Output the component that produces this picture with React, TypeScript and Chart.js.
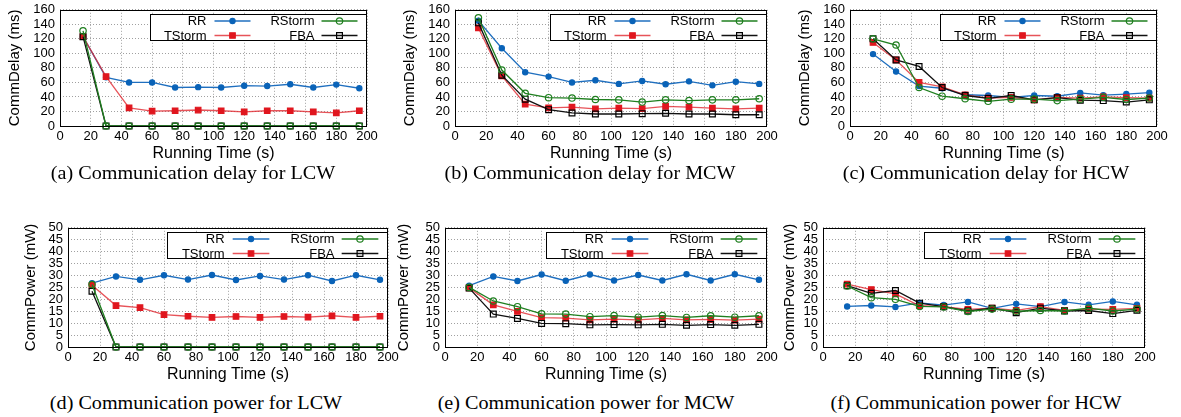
import React, { useEffect, useRef } from 'react';
import { Chart, registerables } from 'chart.js';

Chart.register(...registerables);

// ---------------- data ----------------
const TIMES = [15, 30, 45, 60, 75, 90, 105, 120, 135, 150, 165, 180, 195];
const SERIES_NAMES = ['RR', 'RStorm', 'TStorm', 'FBA'];
const X_MAX = 200;
const X_STEP = 20;
const DELAY_Y_MAX = 160;
const DELAY_Y_STEP = 20;
const POWER_Y_MAX = 50;
const POWER_Y_STEP = 5;
const X_TITLE = 'Running Time (s)';
const DELAY_TITLE = 'CommDelay (ms)';
const POWER_TITLE = 'CommPower (mW)';

// (a) LCW delay
const LCW_DELAY_RR = [123, 67, 60, 60, 53, 53.5, 53, 55.5, 55, 57.5, 53, 57, 52];
const LCW_DELAY_RSTORM = [131, 0, 0, 0, 0, 0, 0, 0, 0, 0, 0, 0, 0];
const LCW_DELAY_TSTORM = [123, 68, 25, 20.5, 21, 22, 21, 19.5, 21, 21, 19.5, 18, 21];
const LCW_DELAY_FBA = [123, 0, 0, 0, 0, 0, 0, 0, 0, 0, 0, 0, 0];

// (b) MCW delay
const MCW_DELAY_RR = [145, 107, 74, 68, 60, 63, 58, 62, 57.5, 61.5, 56, 61, 58];
const MCW_DELAY_RSTORM = [149, 77, 45, 39, 38.5, 36.5, 36, 33, 36, 35, 36, 36, 37.5];
const MCW_DELAY_TSTORM = [135, 69, 30, 25, 26, 23.5, 24.5, 24, 27, 26, 24.5, 23.5, 24.5];
const MCW_DELAY_FBA = [142, 70, 37, 22.5, 18, 16.5, 16.5, 17, 17.5, 16.5, 16.5, 15.5, 15.5];

// (c) HCW delay
const HCW_DELAY_RR = [99, 75, 55, 52, 43, 42, 39.5, 42, 41, 45.5, 42.5, 44, 46];
const HCW_DELAY_RSTORM = [120, 111.5, 53, 41, 37.5, 34, 37, 37, 35, 37, 39.5, 36.5, 38.5];
const HCW_DELAY_TSTORM = [115, 91, 60, 54, 43, 38.5, 39.5, 36, 39.5, 38.5, 40, 39, 38.5];
const HCW_DELAY_FBA = [120, 91, 82, 53, 42, 38, 42, 36, 39, 35.5, 35, 33, 36];

// (d) LCW power
const LCW_POWER_RR = [26.8, 29.6, 28.2, 30.1, 28.3, 30.2, 28.1, 29.8, 28.3, 30.1, 27.7, 30.1, 28.2];
const LCW_POWER_RSTORM = [26.2, 0, 0, 0, 0, 0, 0, 0, 0, 0, 0, 0, 0];
const LCW_POWER_TSTORM = [25.9, 17.4, 16.5, 13.6, 12.9, 12.4, 12.8, 12.4, 12.8, 12.5, 13.1, 12.4, 12.9];
const LCW_POWER_FBA = [23.4, 0, 0, 0, 0, 0, 0, 0, 0, 0, 0, 0, 0];

// (e) MCW power
const MCW_POWER_RR = [25.7, 29.6, 27.7, 30.4, 27.8, 30.4, 27.9, 30.2, 27.9, 30.5, 27.9, 30.5, 28.2];
const MCW_POWER_RSTORM = [25, 19.3, 16.9, 13.9, 13.8, 12.7, 13.2, 12.5, 13.2, 12.4, 13.1, 12.5, 13.1];
const MCW_POWER_TSTORM = [24.8, 17.7, 14.9, 12.3, 12.1, 11.4, 11.7, 11.4, 12, 11.4, 11.6, 11.3, 11.7];
const MCW_POWER_FBA = [24.7, 13.8, 12, 9.9, 9.8, 9.3, 9.4, 9.3, 9.5, 9.1, 9.4, 9.1, 9.5];

// (f) HCW power
const HCW_POWER_RR = [17, 17.4, 16.8, 18.5, 17.6, 18.9, 16.2, 18.1, 16.9, 18.9, 17.7, 19.1, 17.7];
const HCW_POWER_RSTORM = [25.6, 20.7, 20, 17, 16.8, 14.9, 15.9, 15, 15.3, 15.1, 16.3, 15.1, 15.9];
const HCW_POWER_TSTORM = [26.4, 24.1, 22.3, 17.3, 16.9, 15.8, 16.3, 15.4, 16.9, 15.4, 15.9, 15.8, 16.2];
const HCW_POWER_FBA = [25.7, 22.5, 23.7, 18.4, 16.9, 15.1, 16.3, 14.4, 16.3, 15.1, 15.3, 14, 15.4];

const CAPTIONS = [
  '(a) Communication delay for LCW',
  '(b) Communication delay for MCW',
  '(c) Communication delay for HCW',
  '(d) Communication power for LCW',
  '(e) Communication power for MCW',
  '(f) Communication power for HCW',
];

// ---------------- styles ----------------
const SANS = '"Liberation Sans", Arial, Helvetica, sans-serif';
const SERIF = '"Liberation Serif", "Times New Roman", serif';

type SeriesStyle = {
  line: string;
  point: string;
  fill: string;
  shape: 'circle' | 'rect';
  radius: number;
  order: number;
};

const STYLES: Record<string, SeriesStyle> = {
  RR: { line: '#1f6fbf', point: '#0a63b8', fill: '#0a63b8', shape: 'circle', radius: 2.6, order: 3 },
  RStorm: { line: '#1f7f1f', point: '#1f7f1f', fill: 'rgba(0,0,0,0)', shape: 'circle', radius: 3.2, order: 0 },
  TStorm: { line: 'rgba(225,40,48,0.8)', point: '#e0161e', fill: '#e0161e', shape: 'rect', radius: 3.9, order: 2 },
  FBA: { line: '#111111', point: '#000000', fill: 'rgba(0,0,0,0)', shape: 'rect', radius: 4.1, order: 1 },
};

type Spec = {
  L: number; R: number; T: number; B: number;
  yTitleX: number; xTitleY: number;
  yMax: number; yStep: number; yTitle: string;
  series: number[][];
  caption: string; capX: number; capY: number;
  legendW: number;
};

const PANELS: Spec[] = [
  { L: 60, R: 367, T: 7, B: 126, yTitleX: 15, xTitleY: 153, yMax: DELAY_Y_MAX, yStep: DELAY_Y_STEP, yTitle: DELAY_TITLE,
    series: [LCW_DELAY_RR, LCW_DELAY_RSTORM, LCW_DELAY_TSTORM, LCW_DELAY_FBA], caption: CAPTIONS[0], capX: 193, capY: 173, legendW: 216 },
  { L: 455, R: 767, T: 7, B: 126, yTitleX: 410, xTitleY: 153, yMax: DELAY_Y_MAX, yStep: DELAY_Y_STEP, yTitle: DELAY_TITLE,
    series: [MCW_DELAY_RR, MCW_DELAY_RSTORM, MCW_DELAY_TSTORM, MCW_DELAY_FBA], caption: CAPTIONS[1], capX: 590, capY: 173, legendW: 216 },
  { L: 850, R: 1157, T: 7, B: 126, yTitleX: 805, xTitleY: 153, yMax: DELAY_Y_MAX, yStep: DELAY_Y_STEP, yTitle: DELAY_TITLE,
    series: [HCW_DELAY_RR, HCW_DELAY_RSTORM, HCW_DELAY_TSTORM, HCW_DELAY_FBA], caption: CAPTIONS[2], capX: 986, capY: 173, legendW: 216 },
  { L: 68, R: 388, T: 225, B: 347, yTitleX: 31, xTitleY: 374, yMax: POWER_Y_MAX, yStep: POWER_Y_STEP, yTitle: POWER_TITLE,
    series: [LCW_POWER_RR, LCW_POWER_RSTORM, LCW_POWER_TSTORM, LCW_POWER_FBA], caption: CAPTIONS[3], capX: 196, capY: 403, legendW: 220 },
  { L: 445, R: 767, T: 225, B: 347, yTitleX: 404, xTitleY: 374, yMax: POWER_Y_MAX, yStep: POWER_Y_STEP, yTitle: POWER_TITLE,
    series: [MCW_POWER_RR, MCW_POWER_RSTORM, MCW_POWER_TSTORM, MCW_POWER_FBA], caption: CAPTIONS[4], capX: 586, capY: 403, legendW: 220 },
  { L: 823, R: 1145, T: 225, B: 347, yTitleX: 790, xTitleY: 374, yMax: POWER_Y_MAX, yStep: POWER_Y_STEP, yTitle: POWER_TITLE,
    series: [HCW_POWER_RR, HCW_POWER_RSTORM, HCW_POWER_TSTORM, HCW_POWER_FBA], caption: CAPTIONS[5], capX: 976, capY: 403, legendW: 220 },
];

function drawMarker(ctx: CanvasRenderingContext2D, st: SeriesStyle, x: number, y: number) {
  ctx.save();
  ctx.lineWidth = 1.2;
  ctx.strokeStyle = st.point;
  ctx.fillStyle = st.fill;
  ctx.beginPath();
  if (st.shape === 'circle') {
    ctx.arc(x, y, st.radius, 0, Math.PI * 2);
  } else {
    const h = st.radius * Math.SQRT1_2;
    ctx.rect(x - h, y - h, 2 * h, 2 * h);
  }
  ctx.fill();
  ctx.stroke();
  ctx.restore();
}

const framePlugin = {
  id: 'frameLegend',
  afterDatasetsDraw(chart: any, _args: any, opts: any) {
    const { ctx, chartArea } = chart;
    const { left, top, right, bottom } = chartArea;
    ctx.save();
    ctx.strokeStyle = '#000';
    ctx.lineWidth = 1;
    ctx.strokeRect(Math.round(left) + 0.5, Math.round(top) + 0.5, Math.round(right - left) - 1, Math.round(bottom - top));

    // boxed legend, 2 columns
    const W: number = opts.legendW;
    const s = W / 216;
    const H = 26;
    const x0 = Math.round(right - W - 1) + 0.5;
    const y0 = Math.round(top + 4) + 0.5;
    ctx.fillStyle = '#fff';
    ctx.fillRect(x0, y0, W, H);
    ctx.strokeStyle = '#000';
    ctx.lineWidth = 1;
    ctx.strokeRect(x0, y0, W, H);
    ctx.font = `13px ${SANS}`;
    ctx.textAlign = 'right';
    ctx.textBaseline = 'middle';
    const textR = [56, 164];
    const lineA = [64, 171];
    const lineLen = 36;
    chart.data.datasets.forEach((ds: any, i: number) => {
      const col = i % 2;
      const row = Math.floor(i / 2);
      const st = STYLES[ds.label];
      const yy = y0 + 6.5 + row * 14.5;
      ctx.fillStyle = '#000';
      ctx.fillText(ds.label, x0 + textR[col] * s, yy + 0.5);
      const la = x0 + lineA[col] * s;
      ctx.strokeStyle = st.line;
      ctx.lineWidth = 1.3;
      ctx.beginPath();
      ctx.moveTo(la, yy);
      ctx.lineTo(la + lineLen * s, yy);
      ctx.stroke();
      drawMarker(ctx, st, la + (lineLen * s) / 2, yy);
    });
    ctx.restore();
  },
};

function Panel({ spec }: { spec: Spec }) {
  const ref = useRef<HTMLCanvasElement>(null);
  const padTop = 10;
  const padRight = 16;
  const canvasLeft = spec.yTitleX - 10;
  const canvasTop = spec.T - padTop;
  const width = spec.R + padRight - canvasLeft;
  const height = spec.xTitleY + 10 - canvasTop;

  useEffect(() => {
    const yW = spec.L - canvasLeft;
    const xH = spec.xTitleY + 10 - spec.B;
    const tickFont = { family: SANS, size: 13 };
    const yTitleFont = { family: SANS, size: 15 };
    const xTitleFont = { family: SANS, size: 16 };
    const grid = {
      color: '#a0a0a0',
      lineWidth: 1,
      drawTicks: false,
      tickLength: 0,
    };
    const chart = new Chart(ref.current as HTMLCanvasElement, {
      type: 'line',
      data: {
        datasets: SERIES_NAMES.map((name, i) => {
          const st = STYLES[name];
          return {
            label: name,
            data: TIMES.map((t, j) => ({ x: t, y: spec.series[i][j] })),
            borderColor: st.line,
            borderWidth: 1.3,
            backgroundColor: st.fill,
            pointStyle: st.shape,
            pointRadius: st.radius,
            pointBorderColor: st.point,
            pointBackgroundColor: st.fill,
            pointBorderWidth: 1.2,
            tension: 0,
            fill: false,
            clip: false,
            order: st.order,
          };
        }),
      },
      options: {
        responsive: false,
        animation: false,
        devicePixelRatio: 1,
        layout: { padding: { top: padTop, right: padRight, left: 0, bottom: 0 } },
        plugins: {
          legend: { display: false },
          tooltip: { enabled: false },
          frameLegend: { legendW: spec.legendW },
        } as any,
        scales: {
          x: {
            type: 'linear',
            min: 0,
            max: X_MAX,
            ticks: { stepSize: X_STEP, font: tickFont, color: '#000', padding: 3, maxRotation: 0, autoSkip: false },
            grid,
            border: { display: false, dash: [1, 2] },
            title: { display: true, text: X_TITLE, font: xTitleFont, color: '#000', padding: { top: 0, bottom: 0 } },
            afterFit: (sc: any) => { sc.height = xH; },
          },
          y: {
            type: 'linear',
            min: 0,
            max: spec.yMax,
            ticks: { stepSize: spec.yStep, font: tickFont, color: '#000', padding: 5, autoSkip: false },
            grid,
            border: { display: false, dash: [1, 2] },
            title: { display: true, text: spec.yTitle, font: yTitleFont, color: '#000', padding: { top: 1, bottom: 0 } },
            afterFit: (sc: any) => { sc.width = yW; },
          },
        },
      } as any,
      plugins: [framePlugin],
    });
    return () => chart.destroy();
  }, []);

  return (
    <>
      <canvas
        ref={ref}
        width={width}
        height={height}
        style={{ position: 'absolute', left: canvasLeft, top: canvasTop, width, height }}
      />
      <div
        style={{
          position: 'absolute',
          left: spec.capX - 200,
          top: spec.capY - 11,
          width: 400,
          height: 22,
          lineHeight: '22px',
          textAlign: 'center',
          fontFamily: SERIF,
          fontSize: 18,
          color: '#000',
          whiteSpace: 'nowrap',
          transform: 'scaleX(1.12)',
          transformOrigin: '50% 50%',
        }}
      >
        {spec.caption}
      </div>
    </>
  );
}

export default function App() {
  return (
    <div style={{ position: 'absolute', left: 0, top: 0, width: 1181, height: 417, background: '#fff', overflow: 'hidden' }}>
      {PANELS.map((p, i) => (
        <Panel key={i} spec={p} />
      ))}
    </div>
  );
}
